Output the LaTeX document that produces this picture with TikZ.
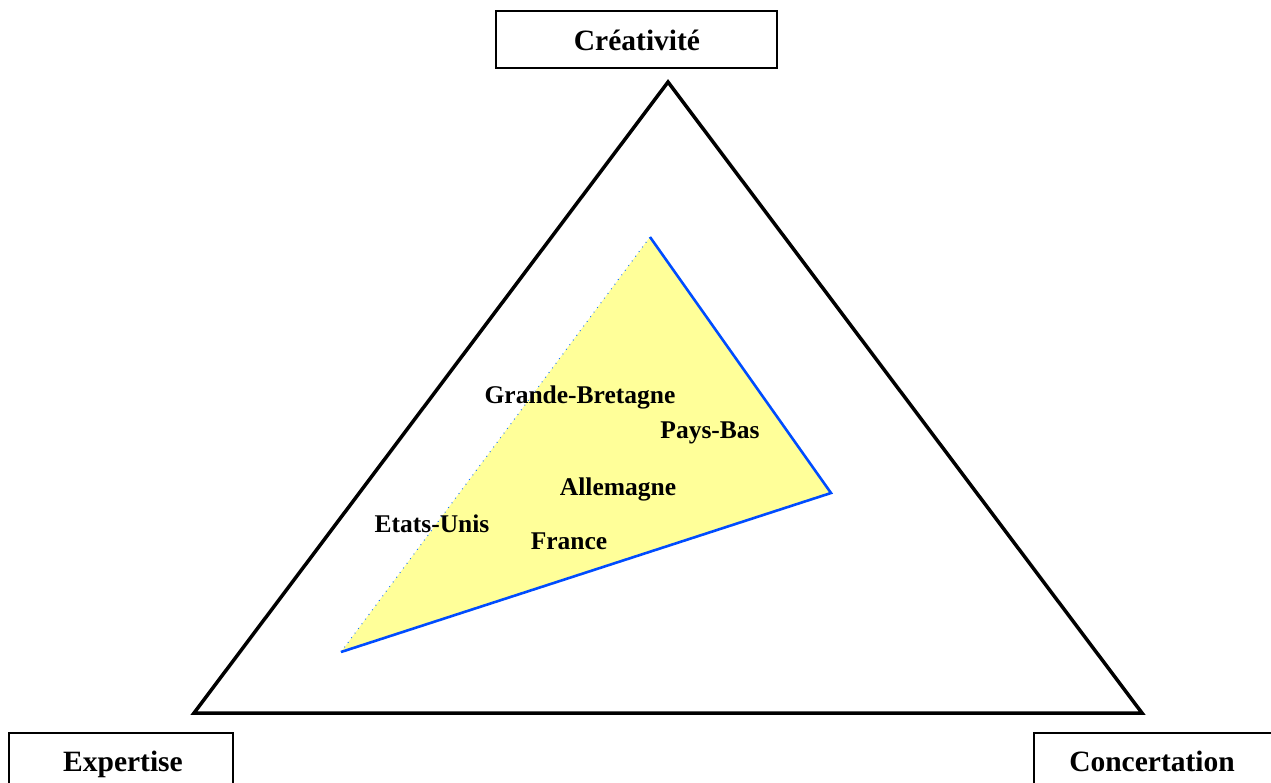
\documentclass[tikz,border=0pt]{standalone}
\usepackage{fontspec}
\setmainfont{Liberation Serif}
\begin{document}
\begin{tikzpicture}[x=1pt,y=-1pt,
  axisbox/.style={draw=black,line width=1.6pt,fill=white,inner sep=0pt},
  axislabel/.style={font=\fontsize{29.5}{32}\selectfont\bfseries,inner sep=0pt,anchor=base},
  country/.style={font=\fontsize{25.5}{28}\selectfont\bfseries,inner sep=0pt,anchor=base},
  bigtri/.style={draw=black,line width=3.5pt,line join=miter},
  blueedge/.style={draw=blue!70!cyan,line width=2.6pt},
  dotedge/.style={draw=blue!60!cyan,line width=1pt,dash pattern=on 0.8pt off 5pt}]
\useasboundingbox (0,0) rectangle (1271,782);
\fill[white] (0,0) rectangle (1271,782);
% big triangle
\coordinate (A) at (668,82);
\coordinate (B) at (194,713);
\coordinate (C) at (1142,713);
\draw[bigtri] (A) -- (B) -- (C) -- cycle;
% yellow triangle
\coordinate (P) at (650,237);
\coordinate (Q) at (831,493);
\coordinate (R) at (341,652);
\fill[fill={rgb,255:red,255;green,255;blue,153}] (P) -- (Q) -- (R) -- cycle;
\draw[blueedge] (P) -- (Q) -- (R);
\draw[dotedge] (R) -- (P);
% axis boxes
\node[axisbox,minimum width=281pt,minimum height=57pt] (creabox) at (636.5,39.5) {};
\node[axislabel] (crea) at (637,50) {Créativité};
\node[axisbox,minimum width=224pt,minimum height=60pt,anchor=north west] (expebox) at (8,732) {};
\node[axislabel] (expe) at (123,771) {Expertise};
\node[axisbox,minimum width=260pt,minimum height=60pt,anchor=north west] (concbox) at (1033,732) {};
\node[axislabel] (conc) at (1152,771) {Concertation};
% countries
\node[country] (gb) at (580,403) {Grande-Bretagne};
\node[country] (nl) at (710,438) {Pays-Bas};
\node[country] (de) at (618,495) {Allemagne};
\node[country] (us) at (432,532) {Etats-Unis};
\node[country] (fr) at (569,549) {France};
\end{tikzpicture}
\end{document}
